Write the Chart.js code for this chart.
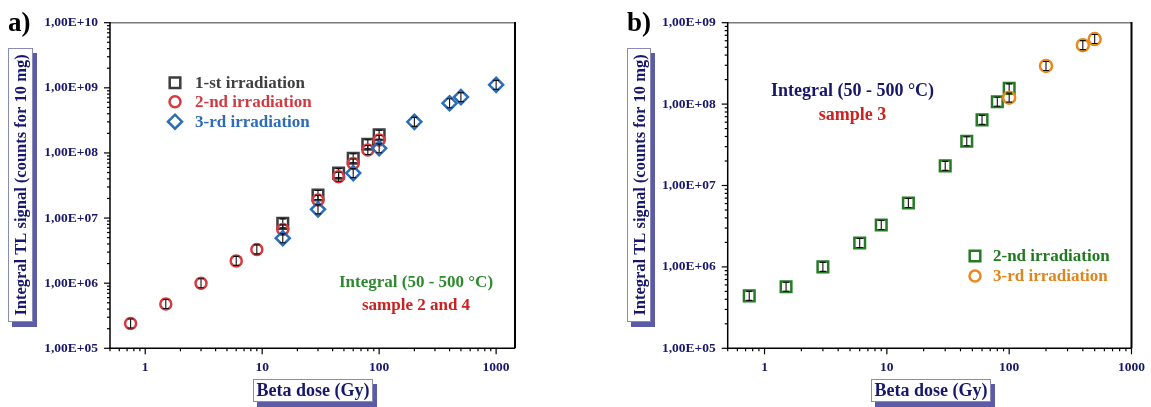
<!DOCTYPE html>
<html><head><meta charset="utf-8">
<script src="https://cdn.jsdelivr.net/npm/chart.js@4"></script>
<style>
html,body{margin:0;padding:0;background:#fff;width:1151px;height:407px;overflow:hidden}
#wrap{position:relative;width:1151px;height:407px}
canvas{position:absolute;top:0}
#ca{left:0}
#cb{left:575px}
</style></head><body>
<div id="wrap"><canvas id="ca" width="575" height="407"></canvas><canvas id="cb" width="576" height="407"></canvas></div>
<script>
// ---------- DATA: panel a) ----------
const doseA1 = [15, 30, 45, 60, 80, 100];
const signalA1 = [8.3e6, 2.26e7, 4.9e7, 8.3e7, 1.36e8, 1.9e8];
const doseA2 = [0.75, 1.5, 3, 6, 9, 15, 30, 45, 60, 80, 100];
const signalA2 = [2.4e5, 4.8e5, 1.0e6, 2.2e6, 3.3e6, 6.7e6, 1.9e7, 4.3e7, 6.9e7, 1.11e8, 1.58e8];
const doseA3 = [15, 30, 60, 100, 200, 400, 500, 1000];
const signalA3 = [4.9e6, 1.36e7, 4.9e7, 1.18e8, 3.0e8, 5.8e8, 7.2e8, 1.11e9];
const seriesNamesA = ['1-st irradiation', '2-nd irradiation', '3-rd irradiation'];
const notesA = ['Integral (50 - 500 °C)', 'sample 2 and 4'];

// ---------- DATA: panel b) ----------
const doseB2 = [0.75, 1.5, 3, 6, 9, 15, 30, 45, 60, 80, 100];
const signalB2 = [4.4e5, 5.7e5, 1.0e6, 1.97e6, 3.27e6, 6.1e6, 1.74e7, 3.5e7, 6.4e7, 1.07e8, 1.56e8];
const doseB3 = [100, 200, 400, 500];
const signalB3 = [1.2e8, 2.94e8, 5.3e8, 6.3e8];
const seriesNamesB = ['2-nd irradiation', '3-rd irradiation'];
const notesB = ['Integral (50 - 500 °C)', 'sample 3'];

// ---------- TICK LABELS ----------
const xTickValues = [1, 10, 100, 1000];
const xTickLabels = ['1', '10', '100', '1000'];
const yTickValuesA = [1e5, 1e6, 1e7, 1e8, 1e9, 1e10];
const yTickLabelsA = ['1,00E+05', '1,00E+06', '1,00E+07', '1,00E+08', '1,00E+09', '1,00E+10'];
const yTickValuesB = [1e5, 1e6, 1e7, 1e8, 1e9];
const yTickLabelsB = ['1,00E+05', '1,00E+06', '1,00E+07', '1,00E+08', '1,00E+09'];
const xTitle = 'Beta dose (Gy)';
const yTitle = 'Integral TL signal (counts for 10 mg)';

const SERIF = '"Liberation Serif", "Times New Roman", serif';
const NAVY = '#17176b';

function pts(xs, ys) { return xs.map((x, i) => ({ x: x, y: ys[i] })); }
function labelFrom(vals, labs) {
  return function (v) {
    const i = vals.findIndex(t => Math.abs(t - v) / t < 1e-6);
    return i >= 0 ? labs[i] : '';
  };
}
function kind(v) {
  const e = Math.floor(Math.log10(v) + 1e-9);
  const m = v / Math.pow(10, e);
  if (Math.abs(m - Math.round(m)) > 1e-6) return 0;
  return Math.round(m) === 1 ? 2 : 1;
}
function drawMarker(ctx, style, x, y, r, color) {
  ctx.save();
  ctx.strokeStyle = color; ctx.lineWidth = 2.5;
  ctx.beginPath();
  if (style === 'rect') { const s = r * Math.SQRT1_2; ctx.rect(x - s, y - s, 2 * s, 2 * s); }
  else if (style === 'rectRot') { ctx.moveTo(x - r, y); ctx.lineTo(x, y - r); ctx.lineTo(x + r, y); ctx.lineTo(x, y + r); ctx.closePath(); }
  else { ctx.arc(x, y, r, 0, Math.PI * 2); }
  ctx.stroke();
  ctx.restore();
}

function decor(cfg) {
  const ox = cfg.ox;
  return {
    id: 'decor',
    afterDatasetDraw(chart, args) {
      const ctx = chart.ctx;
      ctx.save();
      ctx.strokeStyle = '#111'; ctx.lineWidth = 1.1;
      args.meta.data.forEach(p => {
        const x = p.x, y = p.y;
        ctx.beginPath();
        ctx.moveTo(x, y - 4.5); ctx.lineTo(x, y + 4.5);
        ctx.moveTo(x - 3, y - 4.5); ctx.lineTo(x + 3, y - 4.5);
        ctx.moveTo(x - 3, y + 4.5); ctx.lineTo(x + 3, y + 4.5);
        ctx.stroke();
      });
      ctx.restore();
    },
    afterDraw(chart) {
      const ctx = chart.ctx, a = chart.chartArea, xs = chart.scales.x, ys = chart.scales.y;
      const line = (x1, y1, x2, y2) => { ctx.beginPath(); ctx.moveTo(x1, y1); ctx.lineTo(x2, y2); ctx.stroke(); };
      ctx.save();
      // frame
      ctx.strokeStyle = '#7a7a7a'; ctx.lineWidth = 1.5; line(a.left, a.top, a.right, a.top);
      ctx.strokeStyle = '#000'; ctx.lineWidth = 2; line(a.right, a.top - 0.75, a.right, a.bottom);
      ctx.lineWidth = 1.5; line(a.left, a.top - 0.75, a.left, a.bottom + 0.75); line(a.left - 0.75, a.bottom, a.right, a.bottom);
      // ticks
      ctx.lineWidth = 1.2;
      xs.ticks.forEach(t => { const k = kind(t.value); if (!k || t.value > xs.max * 1.0001) return; const px = xs.getPixelForValue(t.value); line(px, a.bottom, px, a.bottom + (k === 2 ? 6 : 3)); });
      ys.ticks.forEach(t => { const k = kind(t.value); if (!k) return; const py = ys.getPixelForValue(t.value); line(a.left, py, a.left - (k === 2 ? 6 : 3), py); });
      // panel letter
      ctx.fillStyle = '#000'; ctx.font = 'bold 27px ' + SERIF; ctx.textAlign = 'left'; ctx.textBaseline = 'alphabetic';
      ctx.fillText(cfg.letter, cfg.letterX - ox, 31);
      // boxes
      const box = (x, y, w, h) => {
        ctx.fillStyle = '#5b5ba6'; ctx.fillRect(x + 4, y + 5, w, h);
        ctx.fillStyle = '#fff'; ctx.fillRect(x, y, w, h);
        ctx.strokeStyle = '#8a8ab8'; ctx.lineWidth = 1; ctx.strokeRect(x + 0.5, y + 0.5, w - 1, h - 1);
      };
      const yb = cfg.yBox; box(yb.x - ox, yb.y, yb.w, yb.h);
      ctx.save();
      ctx.translate(yb.x - ox + yb.w / 2 + 0.5, yb.y + yb.h / 2);
      ctx.rotate(-Math.PI / 2);
      ctx.fillStyle = NAVY; ctx.font = 'bold 16.5px ' + SERIF; ctx.textAlign = 'center'; ctx.textBaseline = 'middle';
      ctx.fillText(yTitle, 0, 1);
      ctx.restore();
      const xb = cfg.xBox; box(xb.x - ox, xb.y, xb.w, xb.h);
      ctx.fillStyle = NAVY; ctx.font = 'bold 18px ' + SERIF; ctx.textAlign = 'center'; ctx.textBaseline = 'middle';
      ctx.fillText(xTitle, xb.x - ox + xb.w / 2, xb.y + xb.h / 2 + 1);
      // legend
      cfg.legend.forEach(it => {
        drawMarker(ctx, it.style, cfg.legX - ox, it.y, it.r, it.color);
        ctx.fillStyle = it.textColor; ctx.font = 'bold 17px ' + SERIF; ctx.textAlign = 'left'; ctx.textBaseline = 'middle';
        ctx.fillText(it.text, cfg.legTextX - ox, it.y + 1);
      });
      // notes
      cfg.notes.forEach(n => {
        ctx.fillStyle = n.color; ctx.font = 'bold ' + n.size + 'px ' + SERIF; ctx.textAlign = 'center'; ctx.textBaseline = 'middle';
        ctx.fillText(n.text, n.x - ox, n.y);
      });
      ctx.restore();
    }
  };
}

function scalesFor(xmin, xmax, ymin, ymax, yW, yVals, yLabs) {
  const tickFont = { family: SERIF, size: 13.5, weight: 'bold' };
  return {
    x: {
      type: 'logarithmic', min: xmin, max: xmax,
      grid: { display: true, drawOnChartArea: false, drawTicks: true, tickLength: 5, tickColor: 'rgba(0,0,0,0)', color: 'rgba(0,0,0,0)' },
      border: { display: false },
      ticks: { autoSkip: false, maxRotation: 0, padding: 6, color: NAVY, font: tickFont, callback: labelFrom(xTickValues, xTickLabels) },
      afterFit(s) { s.height = 58.7; }
    },
    y: {
      type: 'logarithmic', min: ymin, max: ymax,
      grid: { display: true, drawOnChartArea: false, drawTicks: true, tickLength: 6, tickColor: 'rgba(0,0,0,0)', color: 'rgba(0,0,0,0)' },
      border: { display: false },
      ticks: { autoSkip: false, padding: 6, color: NAVY, font: tickFont, callback: labelFrom(yVals, yLabs) },
      afterFit(s) { s.width = yW; }
    }
  };
}

const C1 = '#3d3d3d', C2 = '#d63a40', C3 = '#2c6cb8', CG = '#267a26', CO = '#e8891e';

new Chart(document.getElementById('ca'), {
  type: 'scatter',
  data: {
    datasets: [
      { label: seriesNamesA[0], data: pts(doseA1, signalA1), pointStyle: 'rect', pointRadius: 7.5, borderWidth: 2.5, borderColor: C1, backgroundColor: 'rgba(0,0,0,0)', order: 3 },
      { label: seriesNamesA[1], data: pts(doseA2, signalA2), pointStyle: 'circle', pointRadius: 5.5, borderWidth: 2.5, borderColor: C2, backgroundColor: 'rgba(0,0,0,0)', order: 2 },
      { label: seriesNamesA[2], data: pts(doseA3, signalA3), pointStyle: 'rectRot', pointRadius: 7, borderWidth: 2.5, borderColor: C3, backgroundColor: 'rgba(0,0,0,0)', order: 1 }
    ]
  },
  options: {
    responsive: false, animation: false, events: [],
    layout: { padding: { left: 0, top: 22.7, right: 60, bottom: 0 } },
    plugins: { legend: { display: false }, tooltip: { enabled: false } },
    scales: scalesFor(0.5, 1450, 1e5, 1e10, 110, yTickValuesA, yTickLabelsA)
  },
  plugins: [decor({
    ox: 0, letter: 'a)', letterX: 8,
    yBox: { x: 8, y: 48, w: 25, h: 274 },
    xBox: { x: 253, y: 379, w: 120, h: 23 },
    legX: 175, legTextX: 195,
    legend: [
      { style: 'rect', r: 7.5, color: C1, text: seriesNamesA[0], textColor: '#404040', y: 82.7 },
      { style: 'circle', r: 5.5, color: C2, text: seriesNamesA[1], textColor: '#d03a40', y: 101.7 },
      { style: 'rectRot', r: 7, color: C3, text: seriesNamesA[2], textColor: '#2c6cb8', y: 121.7 }
    ],
    notes: [
      { text: notesA[0], x: 416, y: 282.7, color: '#2e8a2e', size: 17 },
      { text: notesA[1], x: 416, y: 306, color: '#cc2020', size: 17 }
    ]
  })]
});

new Chart(document.getElementById('cb'), {
  type: 'scatter',
  data: {
    datasets: [
      { label: seriesNamesB[0], data: pts(doseB2, signalB2), pointStyle: 'rect', pointRadius: 7.5, borderWidth: 2.5, borderColor: CG, backgroundColor: 'rgba(0,0,0,0)', order: 2 },
      { label: seriesNamesB[1], data: pts(doseB3, signalB3), pointStyle: 'circle', pointRadius: 6, borderWidth: 2.5, borderColor: CO, backgroundColor: 'rgba(0,0,0,0)', order: 1 }
    ]
  },
  options: {
    responsive: false, animation: false, events: [],
    layout: { padding: { left: 0, top: 22.7, right: 18.3, bottom: 0 } },
    plugins: { legend: { display: false }, tooltip: { enabled: false } },
    scales: scalesFor(0.5, 1000, 1e5, 1e9, 152.7, yTickValuesB, yTickLabelsB)
  },
  plugins: [decor({
    ox: 575, letter: 'b)', letterX: 627,
    yBox: { x: 627, y: 48, w: 24, h: 274 },
    xBox: { x: 871, y: 379, w: 120, h: 23 },
    legX: 975, legTextX: 993,
    legend: [
      { style: 'rect', r: 7.5, color: CG, text: seriesNamesB[0], textColor: '#1f7a1f', y: 256 },
      { style: 'circle', r: 5.5, color: CO, text: seriesNamesB[1], textColor: '#e0851c', y: 276 }
    ],
    notes: [
      { text: notesB[0], x: 852.5, y: 91.7, color: '#16166a', size: 18 },
      { text: notesB[1], x: 852.5, y: 115, color: '#d02020', size: 18 }
    ]
  })]
});
</script>
</body></html>
